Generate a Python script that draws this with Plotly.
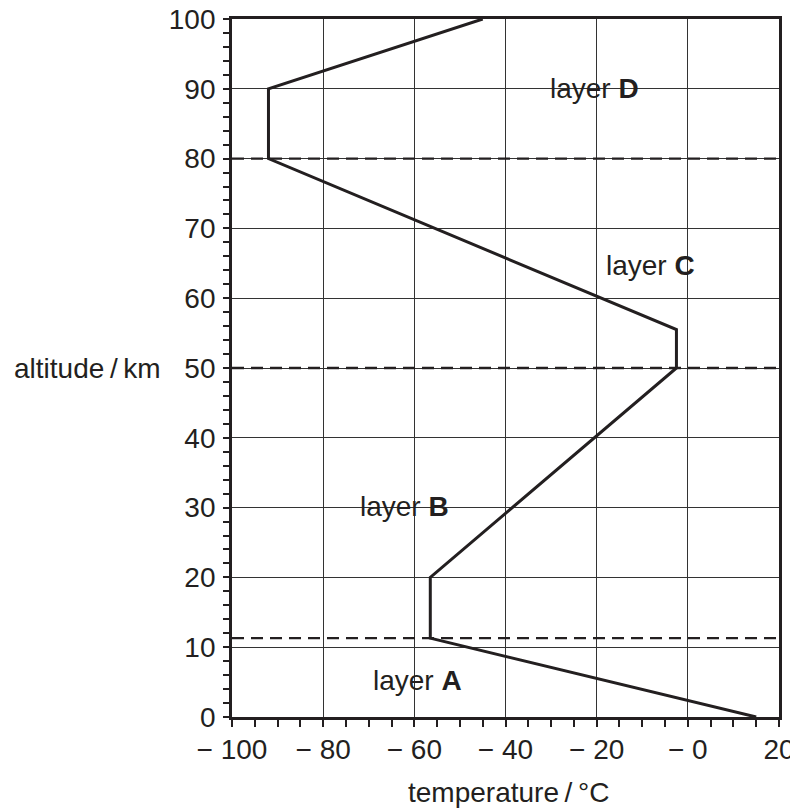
import plotly.graph_objects as go

temperature = [15, -56.5, -56.5, -2.5, -2.5, -92, -92, -45]
altitude = [0, 11.3, 20, 50, 55.5, 80, 90, 100]
boundaries = [11.3, 50, 80]
x_ticks = [-100, -80, -60, -40, -20, 0, 20]
x_ticktext = ["\u2212 100", "\u2212 80", "\u2212 60", "\u2212 40", "\u2212 20", "\u2212 0", "20"]
y_ticks = [0, 10, 20, 30, 40, 50, 60, 70, 80, 90, 100]
layer_labels = ["layer <b>A</b>", "layer <b>B</b>", "layer <b>C</b>", "layer <b>D</b>"]
layer_x = [-59.4, -62.1, -8.1, -20.4]
layer_y = [5.2, 30.2, 64.7, 90.1]

ink = "#231f20"
FONT = "Liberation Sans, Arial, sans-serif"
FS = 28
fig = go.Figure()
for b in boundaries:
    fig.add_trace(go.Scatter(x=[-100, 20], y=[b, b], mode="lines",
                             line=dict(color=ink, width=2.3, dash="12px,7px"),
                             showlegend=False, hoverinfo="skip"))
fig.add_trace(go.Scatter(x=temperature, y=altitude, mode="lines",
                         line=dict(color=ink, width=3), showlegend=False))

for t, x, y in zip(layer_labels, layer_x, layer_y):
    fig.add_annotation(x=x, y=y, text=t, showarrow=False,
                       font=dict(size=FS, color=ink, family=FONT))

fig.add_annotation(x=-0.265, y=50, xref="paper", yref="y", text="altitude\u2009/\u2009km",
                   showarrow=False, xanchor="center", yanchor="middle",
                   font=dict(size=FS, color=ink, family=FONT))
fig.add_annotation(x=0.505, y=-0.108, xref="paper", yref="paper", text="temperature\u2009/\u2009\u00b0C",
                   showarrow=False, yanchor="middle",
                   font=dict(size=FS, color=ink, family=FONT))

fig.update_xaxes(range=[-100, 20], tickvals=x_ticks, ticktext=x_ticktext,
                 showgrid=True, gridcolor="#333333", gridwidth=1.3,
                 showline=True, linecolor=ink, linewidth=2.8, mirror=True,
                 ticks="outside", ticklen=7, tickwidth=2, tickcolor=ink,
                 minor=dict(dtick=5, ticks="outside", ticklen=7, tickwidth=2, tickcolor=ink, showgrid=False),
                 zeroline=False, tickfont=dict(size=FS, color=ink, family=FONT), automargin=False,
                 ticklabelstandoff=-2, ticklabeloverflow="allow")
fig.update_yaxes(range=[0, 100], tickvals=y_ticks,
                 showgrid=True, gridcolor="#333333", gridwidth=1.3,
                 showline=True, linecolor=ink, linewidth=2.8, mirror=True,
                 ticks="outside", ticklen=6, tickwidth=2, tickcolor=ink,
                 minor=dict(dtick=2, ticks="outside", ticklen=6, tickwidth=2, tickcolor=ink, showgrid=False),
                 zeroline=False, tickfont=dict(size=FS, color=ink, family=FONT), automargin=False,
                 ticklabelstandoff=2, ticklabeloverflow="allow")

fig.update_layout(width=790, height=804, margin=dict(l=224, r=19, t=11, b=95),
                  plot_bgcolor="white", paper_bgcolor="white",
                  font=dict(family=FONT, color=ink))
fig.write_html("out.html")
